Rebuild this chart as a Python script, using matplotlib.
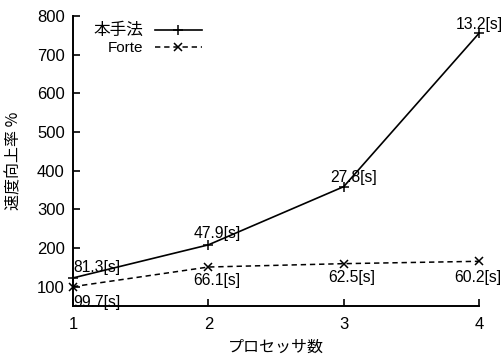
import matplotlib
matplotlib.use("Agg")
import matplotlib.pyplot as plt

# Speed-up (%) relative to the 1-processor Forte run, with the measured times
processors = [1, 2, 3, 4]
proposed_speedup = [122.6, 208.1, 358.6, 755.3]
forte_speedup = [100.0, 150.8, 159.5, 165.6]
proposed_times = ["81.3[s]", "47.9[s]", "27.8[s]", "13.2[s]"]
forte_times = ["99.7[s]", "66.1[s]", "62.5[s]", "60.2[s]"]
yticks = [100, 200, 300, 400, 500, 600, 700, 800]

# Label anchor points (data coords) and alignment for each time annotation
proposed_label_pos = [(1.0, 149, "left"), (2.064, 237, "center"),
                      (3.07, 382, "center"), (4.0, 779, "center")]
forte_label_pos = [(1.0, 58, "left"), (2.064, 115, "center"),
                   (3.06, 123, "center"), (3.99, 123, "center")]

plt.rcParams["font.family"] = ["Liberation Sans", "Noto Sans CJK JP", "DejaVu Sans"]
cjk = ["Noto Sans CJK JP", "Liberation Sans", "DejaVu Sans"]

fig = plt.figure(figsize=(5.04, 3.58), dpi=100)
ax = fig.add_axes([73 / 504, 1 - 306 / 358, (479 - 73) / 504, (306 - 16) / 358])

ax.plot(processors, proposed_speedup, color="black", lw=1.2,
        marker="+", ms=7, mew=1.1, label="本手法", clip_on=False, zorder=3)
ax.plot(processors, forte_speedup, color="black", lw=1.1,
        ls=(0, (3.5, 2.5)), marker="x", ms=5.5, mew=1.1, label="Forte",
        clip_on=False, zorder=3)

for txt, (x, y, ha) in zip(proposed_times, proposed_label_pos):
    ax.text(x, y, txt, ha=ha, va="center", fontsize=11.3)
for txt, (x, y, ha) in zip(forte_times, forte_label_pos):
    ax.text(x, y, txt, ha=ha, va="center", fontsize=11.3)

ax.set_xlim(1, 4)
ax.set_ylim(50, 800)
ax.set_xticks(processors)
ax.set_yticks(yticks)
for lab in ax.get_xticklabels() + ax.get_yticklabels():
    lab.set_fontsize(12)

ax.spines["top"].set_visible(False)
ax.spines["right"].set_visible(False)
for s in ("left", "bottom"):
    ax.spines[s].set_linewidth(1.4)
ax.tick_params(direction="in", length=5, width=1.2, pad=6, color="black")
ax.tick_params(axis="x", pad=8)

ax.set_xlabel("プロセッサ数", fontsize=11.5, labelpad=5, family=cjk)
ax.set_ylabel("速度向上率 %", fontsize=11.5, labelpad=10, family=cjk)

leg = ax.legend(loc="upper right", bbox_to_anchor=(202 / 504, 1 - 22 / 358),
                bbox_transform=fig.transFigure, frameon=False, markerfirst=False,
                numpoints=1, handlelength=3.1, handletextpad=0.75,
                labelspacing=0.15, borderpad=0, borderaxespad=0, fontsize=11)
texts = leg.get_texts()
texts[0].set_family(cjk)
texts[0].set_fontsize(12)
for t in texts:
    t.set_ha("right")

fig.savefig("out.png", dpi=100, facecolor="white")
